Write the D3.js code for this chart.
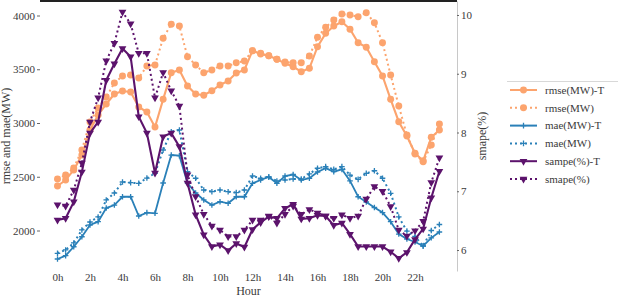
<!DOCTYPE html>
<html>
<head>
<meta charset="utf-8">
<script src="https://d3js.org/d3.v7.min.js"></script>
<style>
  body { margin: 0; background: #fff; }
  svg, text { font-family: "Liberation Serif", "Times New Roman", "DejaVu Serif", serif; }
  text { fill: #3a3a3a; }
</style>
</head>
<body>
<svg id="drawing_region"></svg>
<script>
// half-hour steps
const hours = [0, 0.5, 1, 1.5, 2, 2.5, 3, 3.5, 4, 4.5, 5, 5.5, 6, 6.5, 7, 7.5,
    8, 8.5, 9, 9.5, 10, 10.5, 11, 11.5, 12, 12.5, 13, 13.5, 14, 14.5, 15, 15.5,
    16, 16.5, 17, 17.5, 18, 18.5, 19, 19.5, 20, 20.5, 21, 21.5, 22, 22.5, 23, 23.5];
const xTicks = [0, 2, 4, 6, 8, 10, 12, 14, 16, 18, 20, 22];
const leftTicks = [2000, 2500, 3000, 3500, 4000];
const rightTicks = [6, 7, 8, 9, 10];

const rmseT = [2414, 2470, 2563, 2702, 2935, 3074, 3177, 3270, 3298, 3288, 3149, 3102,
    2963, 3220, 3468, 3493, 3344, 3270, 3258, 3300, 3354, 3391, 3465, 3493,
    3673, 3642, 3626, 3593, 3555, 3524, 3477, 3509, 3710, 3834, 3902, 3942,
    3872, 3747, 3704, 3570, 3437, 3220, 3012, 2879, 2718, 2649, 2867, 2935];
const rmse = [2479, 2516, 2581, 2749, 3009, 3140, 3242, 3372, 3437, 3447, 3419, 3530,
    3540, 3788, 3918, 3902, 3617, 3540, 3468, 3493, 3530, 3530, 3561, 3577,
    3673, 3648, 3626, 3593, 3567, 3561, 3561, 3623, 3797, 3890, 3958, 4014,
    4005, 3989, 4026, 3933, 3747, 3447, 3158, 2888, 2712, 2640, 2795, 2991];
const maeT = [1735, 1766, 1849, 1942, 2051, 2082, 2209, 2237, 2314, 2314, 2135, 2166,
    2160, 2442, 2702, 2696, 2442, 2349, 2284, 2237, 2268, 2253, 2314, 2314,
    2439, 2470, 2498, 2439, 2507, 2521, 2470, 2486, 2544, 2579, 2547, 2569,
    2461, 2314, 2265, 2214, 2167, 2082, 1967, 1921, 1893, 1856, 1932, 1986];
const mae = [1788, 1819, 1884, 2005, 2079, 2126, 2284, 2349, 2451, 2445, 2439, 2488,
    2532, 2749, 2919, 2935, 2547, 2486, 2377, 2361, 2377, 2361, 2352, 2377,
    2507, 2486, 2498, 2461, 2470, 2479, 2479, 2526, 2579, 2594, 2569, 2594,
    2516, 2476, 2532, 2556, 2486, 2346, 2126, 1995, 1944, 1856, 2000, 2056];
const smapeT = [6.51, 6.54, 6.82, 7.33, 7.99, 8.18, 8.89, 9.17, 9.43, 9.29, 8.27, 7.99,
    7.31, 7.93, 7.99, 7.76, 7.14, 6.60, 6.26, 6.06, 6.09, 5.99, 6.11, 6.05,
    6.35, 6.47, 6.57, 6.54, 6.71, 6.78, 6.53, 6.54, 6.59, 6.58, 6.42, 6.46,
    6.27, 6.06, 6.06, 6.06, 6.06, 5.97, 5.86, 5.96, 6.18, 6.36, 6.89, 7.34];
const smape = [6.77, 6.75, 7.02, 7.48, 8.18, 8.59, 9.22, 9.52, 10.05, 9.85, 9.35, 9.35,
    8.59, 9.02, 8.71, 8.45, 7.28, 6.91, 6.61, 6.41, 6.34, 6.23, 6.23, 6.34,
    6.51, 6.51, 6.58, 6.46, 6.61, 6.75, 6.61, 6.69, 6.63, 6.58, 6.54, 6.60,
    6.54, 6.58, 6.87, 7.08, 7.00, 6.74, 6.34, 6.24, 6.33, 6.49, 7.15, 7.57];

const ORANGE = '#fca46e';
const BLUE = '#2a80b8';
const PURPLE = '#5c136c';
const FONT = '"Liberation Serif", "Times New Roman", "DejaVu Serif", serif';

const series = [
    { name: 'rmse(MW)-T', values: rmseT,  axis: 'left',  color: ORANGE, dotted: false, marker: 'circle' },
    { name: 'rmse(MW)',   values: rmse,   axis: 'left',  color: ORANGE, dotted: true,  marker: 'circle' },
    { name: 'mae(MW)-T',  values: maeT,   axis: 'left',  color: BLUE,   dotted: false, marker: 'plus' },
    { name: 'mae(MW)',    values: mae,    axis: 'left',  color: BLUE,   dotted: true,  marker: 'plus' },
    { name: 'sampe(%)-T', values: smapeT, axis: 'right', color: PURPLE, dotted: false, marker: 'tri' },
    { name: 'smape(%)',   values: smape,  axis: 'right', color: PURPLE, dotted: true,  marker: 'tri' }
];

class DualAxisChart {

    constructor(config, series) {
        this.config = config;
        this.series = series;
        this.init();
    }

    init() {
        const self = this;
        const c = self.config;

        self.svg = d3.select(c.parent)
            .attr('width', c.width)
            .attr('height', c.height)
            .attr('font-family', FONT);

        // hour positions: 0h at 57.5px, 23.5h at 439.4px
        self.xscale = d3.scaleLinear().domain([0, 23.5]).range([57.5, 439.4]);
        self.yleft = d3.scaleLinear().domain([1623.3, 4134.9]).range([c.bottom, c.top]);
        self.yright = d3.scaleLinear().domain([5.643, 10.238]).range([c.bottom, c.top]);
    }

    markerPath(kind) {
        if (kind === 'circle') return d3.symbol(d3.symbolCircle, 38)();
        if (kind === 'tri') return d3.symbol(d3.symbolTriangle, 26)();
        return 'M-2.8,0H2.8M0,-2.8V2.8';
    }

    drawMarker(g, s, x, y) {
        const self = this;
        const p = g.append('path')
            .attr('d', self.markerPath(s.marker))
            .attr('transform', `translate(${x},${y})` + (s.marker === 'tri' ? ' rotate(180)' : ''));
        if (s.marker === 'plus') {
            p.attr('fill', 'none').attr('stroke', s.color).attr('stroke-width', 1.3);
        } else {
            p.attr('fill', s.color);
        }
    }

    render() {
        const self = this;
        const c = self.config;

        // top frame line
        self.svg.append('line')
            .attr('x1', c.left).attr('x2', c.right)
            .attr('y1', 1).attr('y2', 1)
            .attr('stroke', '#222').attr('stroke-width', 2);

        // left axis
        const la = self.svg.append('g')
            .attr('transform', `translate(${c.left},0)`)
            .call(d3.axisLeft(self.yleft).tickValues(leftTicks).tickFormat(d3.format('d'))
                .tickSize(3).tickPadding(2));
        la.select('.domain').remove();

        // right axis
        const ra = self.svg.append('g')
            .attr('transform', `translate(${c.right},0)`)
            .call(d3.axisRight(self.yright).tickValues(rightTicks).tickFormat(d3.format('d'))
                .tickSize(2).tickSizeOuter(0).tickPadding(2));
        ra.select('.domain').attr('stroke', '#c8c8c8');

        // bottom axis
        const ba = self.svg.append('g')
            .attr('transform', `translate(0,${c.bottom})`)
            .call(d3.axisBottom(self.xscale).tickValues(xTicks).tickFormat(d => d + 'h')
                .tickSize(0).tickPadding(2));
        ba.select('.domain').remove();

        self.svg.selectAll('g').attr('font-family', FONT);
        self.svg.selectAll('.tick text')
            .attr('font-size', 11)
            .attr('fill', '#3a3a3a');
        self.svg.selectAll('.tick line').attr('stroke', '#666');

        // axis titles
        self.svg.append('text')
            .attr('transform', `translate(10,${(c.top + c.bottom) / 2}) rotate(-90)`)
            .attr('text-anchor', 'middle')
            .attr('font-size', 12)
            .text('rmse and mae(MW)');

        self.svg.append('text')
            .attr('transform', `translate(486,${(c.top + c.bottom) / 2}) rotate(-90)`)
            .attr('text-anchor', 'middle')
            .attr('font-size', 12)
            .text('smape(%)');

        self.svg.append('text')
            .attr('x', (c.left + c.right) / 2)
            .attr('y', 294.5)
            .attr('text-anchor', 'middle')
            .attr('font-size', 12)
            .text('Hour');

        // lines + markers
        const plot = self.svg.append('g');
        self.series.forEach(s => {
            const ys = s.axis === 'left' ? self.yleft : self.yright;
            const line = d3.line()
                .x((d, i) => self.xscale(hours[i]))
                .y(d => ys(d));

            plot.append('path')
                .datum(s.values)
                .attr('d', line)
                .attr('fill', 'none')
                .attr('stroke', s.color)
                .attr('stroke-width', s.dotted ? 2 : (s.marker === 'plus' ? 1.8 : 2.1))
                .attr('stroke-dasharray', s.dotted ? '2,3' : null);

            const mg = plot.append('g');
            s.values.forEach((v, i) => self.drawMarker(mg, s, self.xscale(hours[i]), ys(v)));
        });

        // legend
        const lg = self.svg.append('g');
        lg.append('line')
            .attr('x1', 507).attr('x2', 618)
            .attr('y1', 81.5).attr('y2', 81.5)
            .attr('stroke', '#d8d8d8');

        self.series.forEach((s, i) => {
            const y = 90 + i * 17.8;
            lg.append('line')
                .attr('x1', 510).attr('x2', 537)
                .attr('y1', y).attr('y2', y)
                .attr('stroke', s.color)
                .attr('stroke-width', 2)
                .attr('stroke-dasharray', s.dotted ? '2,3' : null);
            self.drawMarker(lg, s, 523.5, y);
            lg.append('text')
                .attr('x', 545)
                .attr('y', y)
                .attr('dy', '0.35em')
                .attr('font-size', 11)
                .text(s.name);
        });
    }
}

const config = {
    parent: '#drawing_region',
    width: 618,
    height: 296,
    left: 40, right: 457,
    top: 1, bottom: 271
};

const chart = new DualAxisChart(config, series);
chart.render();
</script>
</body>
</html>
